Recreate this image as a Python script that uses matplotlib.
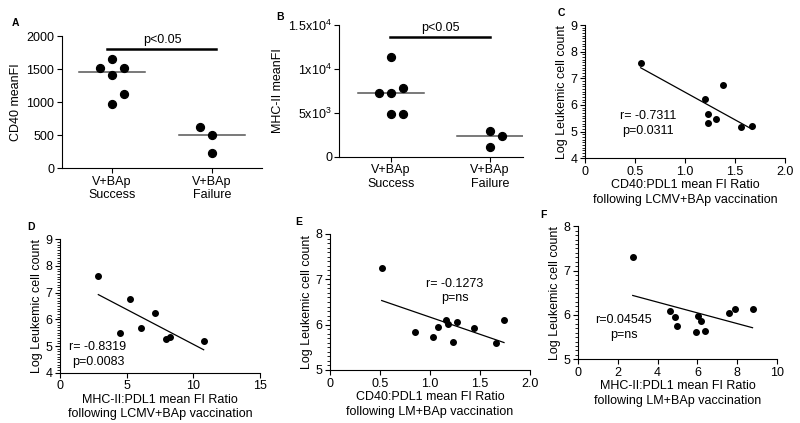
import numpy as np
import matplotlib
matplotlib.use("Agg")
import matplotlib.pyplot as plt
from matplotlib.ticker import AutoMinorLocator

plt.rcParams['font.family'] = ['Liberation Sans', 'DejaVu Sans']
plt.rcParams['mathtext.default'] = 'regular'
plt.rcParams['font.size'] = 9

# panel A: CD40 meanFI
a_success = [1515, 1665, 1515, 1420, 1120, 970]
a_failure = [625, 505, 230]
# panel B: MHC-II meanFI
b_success = [7250, 11300, 7820, 7250, 4820, 4900]
b_failure = [2960, 2350, 1140]
group_labels = ["V+BAp\nSuccess", "V+BAp\nFailure"]

# panel C: CD40:PDL1 ratio (LCMV) vs log leukemic count
c_x = [0.557, 1.377, 1.203, 1.23, 1.23, 1.31, 1.56, 1.673]
c_y = [7.59, 6.76, 6.225, 5.66, 5.31, 5.475, 5.16, 5.225]
# panel D: MHC-II:PDL1 ratio (LCMV)
d_x = [2.875, 5.25, 7.1, 6.05, 4.5, 7.975, 8.25, 10.775]
d_y = [7.61, 6.775, 6.25, 5.69, 5.5, 5.26, 5.35, 5.19]
# panel E: CD40:PDL1 ratio (LM)
e_x = [0.517, 0.847, 1.027, 1.083, 1.163, 1.183, 1.27, 1.233, 1.437, 1.663, 1.74]
e_y = [7.257, 5.846, 5.72, 5.956, 6.103, 6.007, 6.059, 5.625, 5.919, 5.588, 6.11]
# panel F: MHC-II:PDL1 ratio (LM)
f_x = [2.75, 4.6, 4.88, 4.95, 5.94, 6.04, 6.16, 6.38, 7.58, 7.89, 8.77]
f_y = [7.316, 6.09, 5.947, 5.744, 5.609, 5.985, 5.872, 5.639, 6.038, 6.143, 6.143]

# horizontal jitter for the dot plots (layout only)
a_jit_s = [-0.12, 0, 0.12, 0, 0.12, 0]
a_jit_f = [-0.12, 0, 0]
b_jit_s = [-0.12, 0, 0.12, 0, 0, 0.12]
b_jit_f = [0, 0.12, 0]

W, H = 800, 423
fig = plt.figure(figsize=(8, 4.23), dpi=100)


def px_axes(l, t, r, b):
    ax = fig.add_axes([l / W, 1 - b / H, (r - l) / W, (b - t) / H])
    for s in ("top", "right"):
        ax.spines[s].set_visible(False)
    ax.tick_params(direction="out", length=3.5, width=0.8, pad=2)
    ax.tick_params(which="minor", length=2, width=0.6)
    return ax


def dot_panel(ax, succ, fail, js, jf, sig_y, sig_x, ymax):
    for pos, vals, jit in ((1, succ, js), (2, fail, jf)):
        ax.scatter(np.array(jit) + pos, vals, s=32, color="black", zorder=3)
        ax.plot([pos - 0.33, pos + 0.33], [np.median(vals)] * 2, color="#555555", lw=1.1)
    ax.plot(sig_x, [sig_y, sig_y], color="black", lw=1.8)
    ax.text(1.5, sig_y + ymax * 0.02, "p<0.05", ha="center", va="bottom")
    ax.set_xticks([1, 2])
    ax.set_xticklabels(group_labels)
    ax.set_ylim(0, ymax)


def scatter_panel(ax, x, y, xlim, ylim, xticks, txt, tx, ty, xlabel):
    ax.scatter(x, y, s=16, color="black", zorder=3)
    k, m = np.polyfit(x, y, 1)
    xs = np.array([min(x), max(x)])
    ax.plot(xs, k * xs + m, color="black", lw=0.9)
    ax.set_xlim(*xlim)
    ax.set_ylim(*ylim)
    ax.set_xticks(xticks)
    ax.set_yticks(range(ylim[0], ylim[1] + 1))
    ax.yaxis.set_minor_locator(AutoMinorLocator(10))
    ax.set_ylabel("Log Leukemic cell count", labelpad=2)
    ax.set_xlabel(xlabel, labelpad=1, linespacing=1.3)
    ax.text(tx, ty, txt, ha="center", va="center", linespacing=1.3)


# A
ax = px_axes(62, 36.5, 262, 168)
dot_panel(ax, a_success, a_failure, a_jit_s, a_jit_f, 1808, [0.95, 2.04], 2000)
ax.set_xlim(0.5, 2.5)
ax.set_yticks([0, 500, 1000, 1500, 2000])
ax.set_ylabel("CD40 meanFI", labelpad=3)

# B
ax = px_axes(339, 25, 523, 156.7)
dot_panel(ax, b_success, b_failure, b_jit_s, b_jit_f, 13630, [0.99, 2.0], 15000)
ax.set_xlim(0.48, 2.33)
ax.set_yticks([0, 5000, 10000, 15000])
ax.set_yticklabels(["0", "5x10$^3$", "1x10$^4$", "1.5x10$^4$"])
ax.tick_params(axis="y", pad=1.5)
ax.set_ylabel("MHC-II meanFI", labelpad=3)

# C
ax = px_axes(585, 25, 785, 158.3)
scatter_panel(ax, c_x, c_y, (0, 2), (4, 9), [0, 0.5, 1.0, 1.5, 2.0],
              "r= -0.7311\np=0.0311", 0.63, 5.31,
              "CD40:PDL1 mean FI Ratio\nfollowing LCMV+BAp vaccination")
ax.set_xticklabels(["0", "0.5", "1.0", "1.5", "2.0"])

# D
ax = px_axes(60, 239.3, 260, 372.7)
scatter_panel(ax, d_x, d_y, (0, 15), (4, 9), [0, 5, 10, 15],
              "r= -0.8319\np=0.0083", 2.85, 4.69,
              "MHC-II:PDL1 mean FI Ratio\nfollowing LCMV+BAp vaccination")

# E
ax = px_axes(330, 234, 530, 370)
scatter_panel(ax, e_x, e_y, (0, 2), (5, 8), [0, 0.5, 1.0, 1.5, 2.0],
              "r= -0.1273\np=ns", 1.25, 6.74,
              "CD40:PDL1 mean FI Ratio\nfollowing LM+BAp vaccination")
ax.set_xticklabels(["0", "0.5", "1.0", "1.5", "2.0"])

# F
ax = px_axes(578, 226.3, 777, 359.3)
scatter_panel(ax, f_x, f_y, (0, 10), (5, 8), [0, 2, 4, 6, 8, 10],
              "r=0.04545\np=ns", 2.3, 5.71,
              "MHC-II:PDL1 mean FI Ratio\nfollowing LM+BAp vaccination")

# panel letters
for letter, x, y in [("A", 15, 22.7), ("B", 280, 17), ("C", 561.7, 13.3),
                     ("D", 30.7, 226.7), ("E", 299, 221.7), ("F", 543.3, 215)]:
    fig.text(x / W, 1 - y / H, letter, fontsize=7.5, fontweight="bold",
             ha="center", va="center")

fig.savefig("out.png", dpi=100)
